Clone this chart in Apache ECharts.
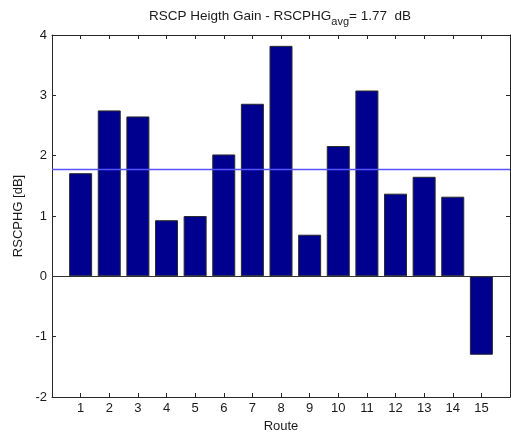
<!DOCTYPE html>
<html>
<head>
<meta charset="utf-8">
<script src="https://cdn.jsdelivr.net/npm/echarts@6/dist/echarts.min.js"></script>
<style>
html,body{margin:0;padding:0;background:#fff;}
#main{width:511px;height:432px;}
</style>
</head>
<body>
<div id="main"></div>
<script>
// 数据
var routes=[1,2,3,4,5,6,7,8,9,10,11,12,13,14,15];
var gains=[1.71,2.75,2.65,0.93,1.00,2.02,2.86,3.82,0.69,2.16,3.08,1.37,1.65,1.32,-1.30];
var avgGain=1.77;
var yMin=-2,yMax=4;
var xMin=0,xMax=16;

var font="Liberation Sans";
var txtColor="#1a1a1a";
var barData=[];
for(var i=0;i<routes.length;i++){
	barData.push([routes[i],gains[i]]);
}

var myChart=echarts.init(document.getElementById("main"));
var axisCommon={
	type:'value',
	min:xMin,
	max:xMax,
	interval:1,
	axisLine:{show:true,onZero:false,lineStyle:{color:"#262626",width:1}},
	axisTick:{show:true,inside:true,length:4,lineStyle:{color:"#262626"}},
	splitLine:{show:false}
};
var option={
	animation:false,
	title:{
		text:"{a|RSCP Heigth Gain - RSCPHG}{b|avg}{a|= "+avgGain.toFixed(2)+"  dB}",
		left:275,
		textAlign:'center',
		top:4,
		textStyle:{
			fontWeight:'normal',
			rich:{
				a:{fontFamily:font,fontSize:13.5,fontWeight:'normal',color:txtColor,verticalAlign:'top',lineHeight:16},
				b:{fontFamily:font,fontSize:11,fontWeight:'normal',color:txtColor,verticalAlign:'top',lineHeight:16,padding:[7,0,0,0]}
			}
		}
	},
	grid:{left:52,right:1,top:35,bottom:35,outerBoundsMode:'none',containLabel:false},
	xAxis:[
		Object.assign({},axisCommon,{
			position:'bottom',
			name:"Route",
			nameLocation:'middle',
			nameGap:22,
			nameTextStyle:{fontFamily:font,fontSize:13,color:txtColor},
			axisLabel:{
				fontFamily:font,fontSize:13,color:txtColor,margin:5,
				formatter:function(v){return (v<1||v>15)?"":v;}
			}
		}),
		Object.assign({},axisCommon,{position:'top',axisLabel:{show:false}})
	],
	yAxis:[
		{
			type:'value',
			min:yMin,
			max:yMax,
			interval:1,
			position:'left',
			name:"RSCPHG [dB]",
			nameLocation:'middle',
			nameGap:24,
			nameTextStyle:{fontFamily:font,fontSize:13,color:txtColor},
			axisLine:{show:true,onZero:false,lineStyle:{color:"#262626"}},
			axisTick:{show:true,inside:true,length:4,lineStyle:{color:"#262626"}},
			axisLabel:{fontFamily:font,fontSize:13,color:txtColor,margin:5},
			splitLine:{show:false}
		},
		{
			type:'value',
			min:yMin,
			max:yMax,
			interval:1,
			position:'right',
			axisLine:{show:true,onZero:false,lineStyle:{color:"#262626"}},
			axisTick:{show:true,inside:true,length:4,lineStyle:{color:"#262626"}},
			axisLabel:{show:false},
			splitLine:{show:false}
		}
	],
	series:[
		{
			type:'bar',
			xAxisIndex:0,
			yAxisIndex:0,
			barWidth:23,
			data:barData,
			itemStyle:{color:"#00008f",borderColor:"#2a2a2a",borderWidth:1},
			markLine:{
				silent:true,
				symbol:'none',
				label:{show:false},
				lineStyle:{color:"#333",width:1,type:'solid'},
				data:[{yAxis:0}]
			}
		},
		{
			// 平均线
			type:'line',
			xAxisIndex:0,
			yAxisIndex:0,
			symbol:'none',
			color:"#5555ff",
			lineStyle:{color:"#5555ff",width:1.5},
			data:[[xMin,avgGain],[xMax,avgGain]],
			z:3
		}
	]
};
myChart.setOption(option);
</script>
</body>
</html>
